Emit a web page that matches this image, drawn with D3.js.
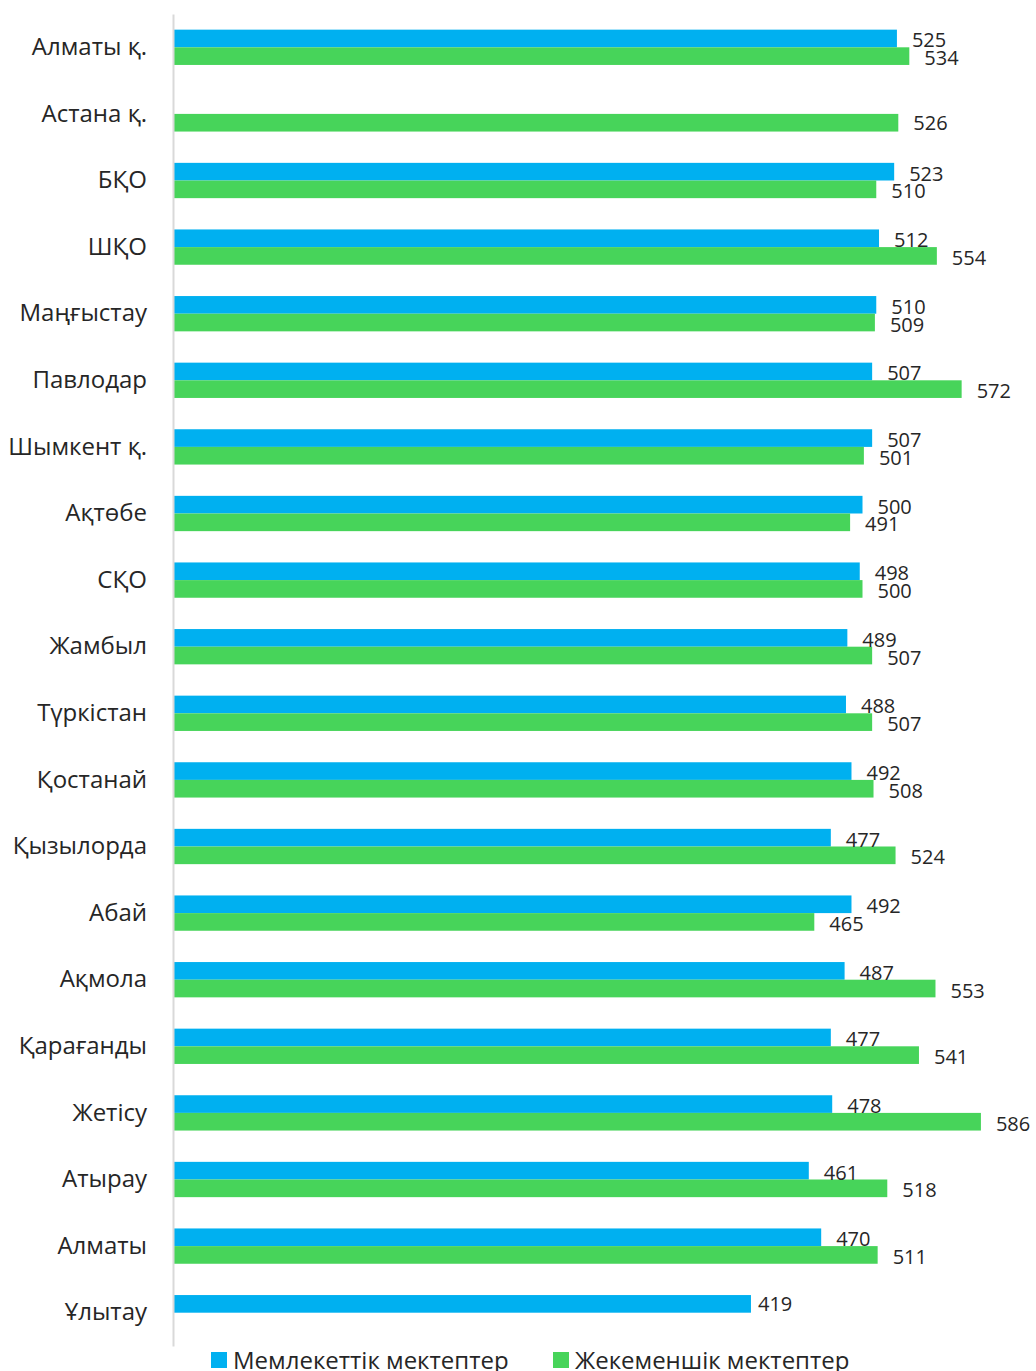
<!DOCTYPE html>
<html>
<head>
<meta charset="utf-8">
<script src="https://cdn.jsdelivr.net/npm/d3@7"></script>
<style>
  body { margin: 0; background: #fff; }
  text { font-family: "Open Sans", "Noto Sans", sans-serif; }
</style>
</head>
<body>
<div class="chart"></div>
<script>
var svgWidth = 1036;
var svgHeight = 1371;

// regions, top to bottom
var regions = ["Алматы қ.", "Астана қ.", "БҚО", "ШҚО", "Маңғыстау", "Павлодар", "Шымкент қ.",
  "Ақтөбе", "СҚО", "Жамбыл", "Түркістан", "Қостанай", "Қызылорда", "Абай", "Ақмола",
  "Қарағанды", "Жетісу", "Атырау", "Алматы", "Ұлытау"];

// state schools (blue)
var stateScores = [525, null, 523, 512, 510, 507, 507, 500, 498, 489, 488, 492, 477, 492, 487,
  477, 478, 461, 470, 419];

// private schools (green)
var privateScores = [534, 526, 510, 554, 509, 572, 501, 491, 500, 507, 507, 508, 524, 465, 553,
  541, 586, 518, 511, null];

var seriesNames = ["Мемлекеттік мектептер", "Жекеменшік мектептер"];
var seriesColors = ["#00B0F0", "#47D45A"];

var margin = { top: 14, left: 174, bottom: 25 };

var svg = d3.select(".chart")
  .append("svg")
  .attr("width", svgWidth)
  .attr("height", svgHeight);

// cut-off title at the very top, only a few descenders show
svg.append("text")
  .attr("x", 470)
  .attr("y", -6)
  .attr("text-anchor", "middle")
  .attr("fill", "#00B0F0")
  .attr("font-weight", "bold")
  .attr("font-size", 24)
  .text("Өңірлер бойынша орташа балл, мектеп түрі");

var yScale = d3.scaleBand()
  .domain(regions)
  .range([margin.top, 1346])
  .paddingInner(0.47)
  .paddingOuter(0.235);

var subScale = d3.scaleBand()
  .domain([0, 1])
  .range([0, yScale.bandwidth()]);

var xScale = d3.scaleLinear()
  .domain([0, 600])
  .range([margin.left, margin.left + 600 * 1.377]);

// build rows
var rows = [];
regions.forEach(function(r, i) {
  [stateScores[i], privateScores[i]].forEach(function(v, s) {
    if (v !== null) {
      var other = s === 0 ? privateScores[i] : stateScores[i];
      rows.push({ region: r, series: s, value: v, single: other === null });
    }
  });
});

var chartGroup = svg.append("g");

chartGroup.selectAll("rect.bar")
  .data(rows)
  .enter()
  .append("rect")
  .attr("class", "bar")
  .attr("x", xScale(0))
  .attr("y", d => yScale(d.region) + subScale(d.series))
  .attr("width", d => xScale(d.value) - xScale(0))
  .attr("height", subScale.bandwidth())
  .attr("fill", d => seriesColors[d.series]);

chartGroup.selectAll("text.val")
  .data(rows)
  .enter()
  .append("text")
  .attr("class", "val")
  .attr("x", d => xScale(d.value) + (d.single && d.series === 0 ? 7 : 15))
  .attr("y", d => yScale(d.region) + subScale(d.series) + subScale.bandwidth() / 2 + (d.single ? 0 : 2))
  .attr("dy", "0.35em")
  .attr("font-size", 20)
  .attr("fill", "#262626")
  .text(d => d.value);

// y axis line
var yAxis = d3.axisLeft(yScale).tickSize(0).tickPadding(26);
var yAxisGroup = svg.append("g")
  .attr("transform", `translate(${margin.left - 1}, 0)`)
  .call(yAxis);

yAxisGroup.select(".domain")
  .attr("stroke", "#d9d9d9")
  .attr("stroke-width", 2);

yAxisGroup.selectAll("text")
  .attr("font-family", "'Open Sans', sans-serif")
  .attr("font-size", 24)
  .attr("fill", "#262626");

// legend
var legend = svg.append("g");
var legendX = [211, 553];
seriesNames.forEach(function(name, i) {
  legend.append("rect")
    .attr("x", legendX[i])
    .attr("y", 1352)
    .attr("width", 16)
    .attr("height", 16)
    .attr("fill", seriesColors[i]);
  legend.append("text")
    .attr("x", legendX[i] + 22)
    .attr("y", 1369)
    .attr("font-size", 24)
    .attr("fill", "#262626")
    .text(name);
});
</script>
</body>
</html>
